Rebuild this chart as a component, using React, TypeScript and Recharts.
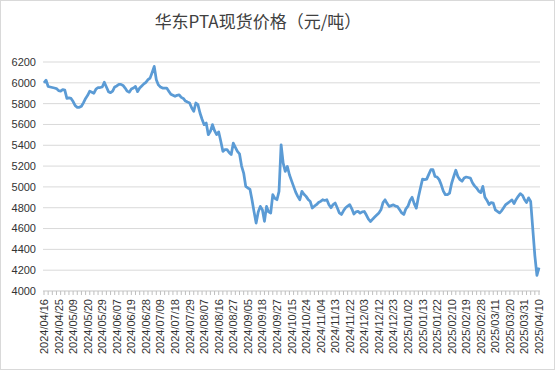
import React from 'react';
import { LineChart, Line, XAxis, YAxis, CartesianGrid } from 'recharts';

const TITLE = '华东PTA现货价格（元/吨）';

const dates: string[] = [
  '2024/04/16','2024/04/17','2024/04/18','2024/04/19','2024/04/22','2024/04/23','2024/04/24','2024/04/25','2024/04/26','2024/04/29','2024/04/30',
  '2024/05/06','2024/05/07','2024/05/08','2024/05/09','2024/05/10','2024/05/13','2024/05/14','2024/05/15','2024/05/16','2024/05/17','2024/05/20','2024/05/21','2024/05/22','2024/05/23','2024/05/24','2024/05/27','2024/05/28','2024/05/29','2024/05/30','2024/05/31',
  '2024/06/03','2024/06/04','2024/06/05','2024/06/06','2024/06/07','2024/06/11','2024/06/12','2024/06/13','2024/06/14','2024/06/17','2024/06/18','2024/06/19','2024/06/20','2024/06/21','2024/06/24','2024/06/25','2024/06/26','2024/06/27','2024/06/28',
  '2024/07/01','2024/07/02','2024/07/03','2024/07/04','2024/07/05','2024/07/08','2024/07/09','2024/07/10','2024/07/11','2024/07/12','2024/07/15','2024/07/16','2024/07/17','2024/07/18','2024/07/19','2024/07/22','2024/07/23','2024/07/24','2024/07/25','2024/07/26','2024/07/29','2024/07/30','2024/07/31',
  '2024/08/01','2024/08/02','2024/08/05','2024/08/06','2024/08/07','2024/08/08','2024/08/09','2024/08/12','2024/08/13','2024/08/14','2024/08/15','2024/08/16','2024/08/19','2024/08/20','2024/08/21','2024/08/22','2024/08/23','2024/08/26','2024/08/27','2024/08/28','2024/08/29','2024/08/30',
  '2024/09/02','2024/09/03','2024/09/04','2024/09/05','2024/09/06','2024/09/09','2024/09/10','2024/09/11','2024/09/12','2024/09/13','2024/09/18','2024/09/19','2024/09/20','2024/09/23','2024/09/24','2024/09/25','2024/09/26','2024/09/27','2024/09/30',
  '2024/10/08','2024/10/09','2024/10/10','2024/10/11','2024/10/14','2024/10/15','2024/10/16','2024/10/17','2024/10/18','2024/10/21','2024/10/22','2024/10/23','2024/10/24','2024/10/25','2024/10/28','2024/10/29','2024/10/30','2024/10/31',
  '2024/11/01','2024/11/04','2024/11/05','2024/11/06','2024/11/07','2024/11/08','2024/11/11','2024/11/12','2024/11/13','2024/11/14','2024/11/15','2024/11/18','2024/11/19','2024/11/20','2024/11/21','2024/11/22','2024/11/25','2024/11/26','2024/11/27','2024/11/28','2024/11/29',
  '2024/12/02','2024/12/03','2024/12/04','2024/12/05','2024/12/06','2024/12/09','2024/12/10','2024/12/11','2024/12/12','2024/12/13','2024/12/16','2024/12/17','2024/12/18','2024/12/19','2024/12/20','2024/12/23','2024/12/24','2024/12/25','2024/12/26','2024/12/27','2024/12/30','2024/12/31',
  '2025/01/02','2025/01/03','2025/01/06','2025/01/07','2025/01/08','2025/01/09','2025/01/10','2025/01/13','2025/01/14','2025/01/15','2025/01/16','2025/01/17','2025/01/20','2025/01/21','2025/01/22','2025/01/23','2025/01/24','2025/01/27',
  '2025/02/05','2025/02/06','2025/02/07','2025/02/10','2025/02/11','2025/02/12','2025/02/13','2025/02/14','2025/02/17','2025/02/18','2025/02/19','2025/02/20','2025/02/21','2025/02/24','2025/02/25','2025/02/26','2025/02/27','2025/02/28',
  '2025/03/03','2025/03/04','2025/03/05','2025/03/06','2025/03/07','2025/03/10','2025/03/11','2025/03/12','2025/03/13','2025/03/14','2025/03/17','2025/03/18','2025/03/19','2025/03/20','2025/03/21','2025/03/24','2025/03/25','2025/03/26','2025/03/27','2025/03/28','2025/03/31',
  '2025/04/01','2025/04/02','2025/04/03','2025/04/07','2025/04/08','2025/04/09','2025/04/10',
];

const prices: number[] = [
  6000,6025,5965,5960,5955,5950,5945,5925,5920,5935,
  5930,5850,5855,5850,5820,5780,5765,5765,5775,5810,
  5850,5880,5920,5910,5900,5940,5955,5955,5960,6005,
  5960,5915,5905,5920,5960,5970,5985,5985,5975,5950,
  5920,5910,5940,5950,5965,5915,5950,5970,5990,6005,
  6030,6045,6100,6158,6030,5980,5960,5950,5950,5950,
  5920,5890,5880,5870,5880,5885,5860,5850,5825,5815,
  5806,5760,5726,5806,5790,5710,5650,5598,5614,5502,
  5534,5598,5540,5502,5528,5438,5342,5358,5358,5330,
  5310,5420,5380,5341,5318,5200,5133,5005,4990,4979,
  4877,4760,4653,4760,4813,4781,4669,4813,4760,4749,
  4925,4890,4877,4957,5405,5229,5149,5197,5117,5060,
  5005,4950,4909,4877,4957,4930,4909,4880,4861,4797,
  4815,4829,4850,4861,4877,4870,4877,4829,4800,4830,
  4845,4800,4750,4735,4770,4800,4815,4830,4790,4740,
  4760,4765,4748,4760,4764,4730,4690,4668,4690,4710,
  4730,4750,4780,4850,4876,4840,4812,4820,4828,4815,
  4810,4780,4750,4735,4790,4815,4870,4900,4840,4796,
  4900,4990,5075,5070,5075,5120,5165,5165,5100,5095,
  5070,5020,4960,4925,4925,4940,5035,5100,5160,5100,
  5070,5055,5085,5095,5090,5085,5040,5010,4990,4960,
  4945,5005,4900,4870,4830,4850,4845,4780,4765,4750,
  4770,4800,4830,4845,4860,4875,4840,4880,4910,4935,
  4920,4880,4850,4895,4860,4600,4340,4150,4225,
];

const yTicks: number[] = [4000, 4200, 4400, 4600, 4800, 5000, 5200, 5400, 5600, 5800, 6000, 6200];

const LABEL_EVERY = 7;
const TICK_EVERY = 2;

const data = dates.map((d, i) => ({ date: d, price: prices[i] }));

const DateTick = (props: any) => {
  const { x, y, payload, index } = props;
  const idx = typeof index === 'number' ? index : payload?.index ?? 0;
  return (
    <g transform={`translate(${x},${y})`}>
      {idx % TICK_EVERY === 0 && <line x1={0} y1={0} x2={0} y2={4} stroke="#bfbfbf" strokeWidth={1} />}
      {idx % LABEL_EVERY === 0 && (
        <text
          transform="rotate(-90)"
          x={-8}
          y={0}
          dy={4}
          textAnchor="end"
          fontSize={11}
          fontFamily="'Liberation Sans', Arial, sans-serif"
          fill="#333"
        >
          {payload.value}
        </text>
      )}
    </g>
  );
};

export default function App() {
  return (
    <div style={{ position: 'absolute', left: 0, top: 0, width: 555, height: 370, background: '#fff' }}>
      <div
        style={{
          position: 'absolute',
          left: 0,
          top: 0,
          width: 555,
          height: 370,
          border: '1px solid #d9d9d9',
          boxSizing: 'border-box',
          pointerEvents: 'none',
        }}
      />
      <div
        style={{
          position: 'absolute',
          left: 0,
          width: 516,
          top: 8,
          textAlign: 'center',
          fontFamily: "'Noto Sans CJK SC', sans-serif",
          fontSize: 17,
          lineHeight: '26px',
          color: '#404040',
        }}
      >
        {TITLE}
      </div>
      <div style={{ position: 'absolute', left: 0, top: 0 }}>
        <LineChart width={555} height={370} data={data} margin={{ top: 62, right: 15, bottom: 0, left: 0 }}>
          <CartesianGrid vertical={false} stroke="#d9d9d9" />
          <XAxis
            dataKey="date"
            interval={0}
            tick={<DateTick />}
            tickLine={false}
            tickSize={0}
            tickMargin={0}
            axisLine={{ stroke: '#d9d9d9' }}
            height={79}
            padding={{ left: 1, right: 1 }}
          />
          <YAxis
            domain={[4000, 6200]}
            ticks={yTicks}
            type="number"
            width={43}
            axisLine={false}
            tickLine={false}
            tickSize={0}
            tickMargin={7}
            tick={{ fontSize: 11, fill: '#333', fontFamily: "'Liberation Sans', Arial, sans-serif" }}
            interval={0}
          />
          <Line
            type="linear"
            dataKey="price"
            stroke="#5B9BD5"
            strokeWidth={2.75}
            dot={false}
            isAnimationActive={false}
            strokeLinejoin="round"
          />
        </LineChart>
      </div>
    </div>
  );
}
